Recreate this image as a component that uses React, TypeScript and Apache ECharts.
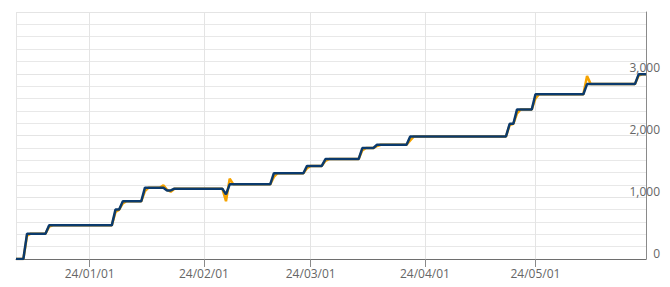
import React, { useEffect, useRef } from "react";
import * as echarts from "echarts";

// Navy series: corner points
const navyDates = [
  "2023-12-12", "2023-12-14", "2023-12-15", "2023-12-20", "2023-12-21",
  "2024-01-07", "2024-01-08", "2024-01-09", "2024-01-10", "2024-01-15",
  "2024-01-16", "2024-01-21", "2024-01-22", "2024-01-23", "2024-01-24",
  "2024-02-06", "2024-02-07", "2024-02-08", "2024-02-19", "2024-02-20",
  "2024-02-28", "2024-02-29", "2024-03-04", "2024-03-05", "2024-03-14",
  "2024-03-15", "2024-03-18", "2024-03-19", "2024-03-27", "2024-03-28",
  "2024-04-23", "2024-04-24", "2024-04-25", "2024-04-26", "2024-04-30",
  "2024-05-01", "2024-05-14", "2024-05-15", "2024-05-28", "2024-05-29",
  "2024-05-31",
];
const navyValues = [
  0, 0, 410, 410, 545,
  545, 800, 800, 935, 935,
  1155, 1155, 1111, 1111, 1139,
  1139, 1046, 1209, 1209, 1389,
  1389, 1508, 1508, 1618, 1618,
  1797, 1797, 1851, 1851, 1985,
  1985, 2190, 2190, 2423, 2423,
  2668, 2668, 2832, 2832, 2990,
  2990,
];

// Orange series: corner points
const orangeDates = [
  "2023-12-12", "2023-12-14", "2023-12-15", "2023-12-16", "2023-12-20",
  "2023-12-21", "2023-12-22", "2024-01-07", "2024-01-08", "2024-01-09",
  "2024-01-10", "2024-01-11", "2024-01-15", "2024-01-16", "2024-01-17",
  "2024-01-20", "2024-01-21", "2024-01-22", "2024-01-23", "2024-01-24",
  "2024-02-06", "2024-02-07", "2024-02-08", "2024-02-09", "2024-02-19",
  "2024-02-20", "2024-02-21", "2024-02-28", "2024-02-29", "2024-03-01",
  "2024-03-04", "2024-03-05", "2024-03-06", "2024-03-14", "2024-03-15",
  "2024-03-16", "2024-03-18", "2024-03-19", "2024-03-20", "2024-03-27",
  "2024-03-28", "2024-03-29", "2024-04-23", "2024-04-24", "2024-04-25",
  "2024-04-26", "2024-04-27", "2024-04-30", "2024-05-01", "2024-05-02",
  "2024-05-14", "2024-05-15", "2024-05-16", "2024-05-28", "2024-05-29",
  "2024-05-30", "2024-05-31",
];
const orangeValues = [
  0, 0, 380, 410, 410,
  525, 545, 545, 760, 800,
  900, 935, 935, 1100, 1155,
  1155, 1195, 1120, 1090, 1139,
  1139, 936, 1302, 1209, 1209,
  1330, 1389, 1389, 1470, 1508,
  1508, 1590, 1618, 1618, 1760,
  1797, 1797, 1830, 1851, 1851,
  1920, 1985, 1985, 2170, 2190,
  2360, 2423, 2423, 2600, 2668,
  2668, 2965, 2832, 2832, 2970,
  2990, 2990,
];

const xMin = "2023-12-12";
const xMax = "2024-05-31";
const yMin = 0;
const yMax = 4000;
const yInterval = 1000;

const pad = (n: number) => (n < 10 ? "0" + n : "" + n);
const fmtDate = (v: number) => {
  const d = new Date(v);
  return `${String(d.getFullYear()).slice(2)}/${pad(d.getMonth() + 1)}/${pad(d.getDate())}`;
};

export default function App() {
  const ref = useRef<HTMLDivElement>(null);
  useEffect(() => {
    if (!ref.current) return;
    const chart = echarts.init(ref.current, undefined, { renderer: "svg" });
    const font = "'Open Sans', sans-serif";
    chart.setOption({
      animation: false,
      grid: {
        left: 16,
        right: 24,
        top: 12,
        bottom: 28,
        containLabel: false,
        outerBoundsMode: "none",
      },
      xAxis: {
        type: "time",
        min: xMin,
        max: xMax,
        splitNumber: 5,
        minInterval: 28 * 86400000,
        axisLine: { show: true, lineStyle: { color: "#6e6e6e", width: 1 } },
        axisTick: { show: true, length: 8, lineStyle: { color: "#8a8a8a" } },
        splitLine: { show: true, lineStyle: { color: "#e4e4e4", width: 1 } },
        axisLabel: {
          formatter: (v: number) => fmtDate(v),
          color: "#666",
          fontFamily: font,
          fontSize: 12,
          margin: 8,
          showMinLabel: false,
          showMaxLabel: false,
        },
      },
      yAxis: {
        type: "value",
        position: "right",
        min: yMin,
        max: yMax,
        interval: yInterval,
        axisLine: { show: true, lineStyle: { color: "#8a8a8a", width: 1 } },
        axisTick: { show: false },
        minorTick: { show: false, splitNumber: 5 },
        splitLine: { show: true, lineStyle: { color: "#e4e4e4", width: 1 } },
        minorSplitLine: { show: true, lineStyle: { color: "#e8e8e8", width: 1 } },
        axisLabel: {
          showMaxLabel: false,
          formatter: (v: number) => v.toLocaleString("en-US"),
          color: "#666",
          fontFamily: font,
          fontSize: 12,
          align: "right",
          verticalAlign: "bottom",
          margin: 14,
        },
      },
      series: [
        {
          type: "line",
          data: orangeDates.map((d, i) => [d, orangeValues[i]]),
          showSymbol: false,
          lineStyle: { color: "#f5a300", width: 2.5 },
          z: 2,
        },
        {
          type: "line",
          data: navyDates.map((d, i) => [d, navyValues[i]]),
          showSymbol: false,
          lineStyle: { color: "#0b3a6c", width: 2.5 },
          z: 3,
        },
      ],
    });
    return () => chart.dispose();
  }, []);
  return <div ref={ref} style={{ width: 670, height: 287, position: "absolute", left: 0, top: 0 }} />;
}
